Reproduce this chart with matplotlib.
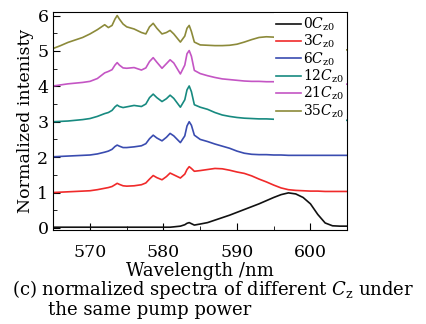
import matplotlib
matplotlib.use('Agg')
import matplotlib.pyplot as plt
from matplotlib.ticker import MultipleLocator

plt.rcParams['font.family'] = ['DejaVu Serif']
plt.rcParams['mathtext.fontset'] = 'dejavuserif'

# wavelength grid shared by all spectra (nm)
wavelength = [565, 566, 567, 568, 569, 570, 571, 572, 572.5, 573, 573.4, 573.7, 574.0, 574.5, 575,
              576, 577, 577.6, 578.1, 578.6, 579.1, 579.8, 580.4, 580.9, 581.4, 582.3, 582.9, 583.2,
              583.5, 583.8, 584.2, 585, 586, 587, 588, 589, 590, 591, 592, 593, 594, 595, 596, 597,
              598, 599, 600, 601, 602, 603, 604, 605]

spec_0 = [0.02, 0.02, 0.02, 0.02, 0.02, 0.02, 0.02, 0.02, 0.02, 0.02, 0.02, 0.02, 0.02, 0.02, 0.02,
          0.02, 0.02, 0.02, 0.02, 0.02, 0.02, 0.02, 0.02, 0.02, 0.03, 0.05, 0.09, 0.13,
          0.15, 0.12, 0.08, 0.11, 0.15, 0.22, 0.29, 0.36, 0.44, 0.52, 0.60, 0.68, 0.77, 0.86, 0.94, 0.99,
          0.96, 0.86, 0.68, 0.38, 0.14, 0.06, 0.05, 0.05]
spec_3 = [1.00, 1.01, 1.02, 1.03, 1.04, 1.05, 1.08, 1.12, 1.14, 1.17, 1.22, 1.26, 1.23, 1.19, 1.18,
          1.19, 1.22, 1.27, 1.38, 1.48, 1.42, 1.36, 1.45, 1.55, 1.50, 1.41, 1.52, 1.65,
          1.73, 1.68, 1.60, 1.62, 1.65, 1.68, 1.67, 1.63, 1.58, 1.54, 1.47, 1.38, 1.30, 1.21, 1.13, 1.08,
          1.06, 1.05, 1.04, 1.04, 1.03, 1.03, 1.03, 1.03]
spec_6 = [2.01, 2.02, 2.03, 2.04, 2.05, 2.06, 2.09, 2.14, 2.17, 2.22, 2.30, 2.34, 2.31, 2.27, 2.27,
          2.29, 2.32, 2.38, 2.52, 2.62, 2.54, 2.46, 2.56, 2.67, 2.60, 2.41, 2.60, 2.88,
          3.00, 2.90, 2.62, 2.50, 2.44, 2.37, 2.31, 2.25, 2.17, 2.11, 2.08, 2.07, 2.07, 2.06, 2.06, 2.05,
          2.05, 2.05, 2.05, 2.05, 2.05, 2.05, 2.05, 2.05]
spec_12 = [3.00, 3.01, 3.02, 3.04, 3.06, 3.09, 3.15, 3.23, 3.26, 3.32, 3.42, 3.47, 3.43, 3.40, 3.42,
           3.46, 3.43, 3.50, 3.68, 3.78, 3.68, 3.57, 3.65, 3.75, 3.66, 3.41, 3.62, 3.90,
           4.01, 3.85, 3.48, 3.41, 3.35, 3.26, 3.19, 3.15, 3.12, 3.10, 3.09, 3.08, 3.08, 3.07, 3.07, 3.07,
           3.06, 3.06, 3.06, 3.05, 3.05, 3.05, 3.04, 3.04]
spec_21 = [4.01, 4.04, 4.07, 4.09, 4.11, 4.14, 4.22, 4.38, 4.42, 4.47, 4.60, 4.67, 4.60, 4.52, 4.51,
           4.53, 4.46, 4.52, 4.70, 4.81, 4.68, 4.51, 4.64, 4.75, 4.66, 4.35, 4.60, 4.92,
           5.01, 4.85, 4.45, 4.36, 4.30, 4.25, 4.21, 4.19, 4.17, 4.15, 4.14, 4.14, 4.13, 4.13, 4.12, 4.11,
           4.10, 4.10, 4.09, 4.08, 4.08, 4.07, 4.07, 4.06]
spec_35 = [5.07, 5.15, 5.24, 5.31, 5.38, 5.48, 5.60, 5.74, 5.66, 5.72, 5.90, 6.00, 5.90, 5.76, 5.68,
           5.62, 5.52, 5.48, 5.68, 5.78, 5.64, 5.48, 5.52, 5.58, 5.48, 5.25, 5.42, 5.64,
           5.72, 5.55, 5.25, 5.17, 5.16, 5.15, 5.15, 5.16, 5.19, 5.25, 5.32, 5.38, 5.40, 5.39, 5.34, 5.26,
           5.18, 5.12, 5.08, 5.05, 5.04, 5.03, 5.03, 5.03]

spectra = [spec_0, spec_3, spec_6, spec_12, spec_21, spec_35]
labels = [r'0$C_{\rm z0}$', r'3$C_{\rm z0}$', r'6$C_{\rm z0}$',
          r'12$C_{\rm z0}$', r'21$C_{\rm z0}$', r'35$C_{\rm z0}$']
colors = ['#111111', '#f02a2a', '#3a4cb0', '#178a80', '#c455c4', '#8c8a3a']

fig = plt.figure(figsize=(4.26, 3.24), dpi=100)
ax = fig.add_axes([0.125, 0.290, 0.690, 0.673])

for y, lab, c in zip(spectra, labels, colors):
    ax.plot(wavelength, y, color=c, linewidth=1.2, label=lab)

ax.set_xlim(565, 605)
ax.set_ylim(-0.06, 6.1)
ax.xaxis.set_major_locator(MultipleLocator(10))
ax.xaxis.set_minor_locator(MultipleLocator(5))
ax.yaxis.set_major_locator(MultipleLocator(1))
ax.yaxis.set_minor_locator(MultipleLocator(0.5))
ax.tick_params(which='both', direction='in', top=False, right=False, labelsize=12.5)
ax.tick_params(which='major', length=5)
ax.tick_params(which='minor', length=3)
ax.tick_params(axis='x', which='major', pad=10)

ax.set_xlabel('Wavelength /nm', fontsize=13, labelpad=1)
ax.set_ylabel('Normalized intenisty', fontsize=12.5, labelpad=2)

leg = ax.legend(loc='upper right', fontsize=10, frameon=True, fancybox=False,
                handlelength=1.8, handletextpad=0.1, labelspacing=0.0,
                borderaxespad=0.1, borderpad=0.15)
leg.get_frame().set_edgecolor('none')
leg.get_frame().set_facecolor('white')
leg.get_frame().set_alpha(1.0)

fig.text(0.028, 0.105, r'(c) normalized spectra of different $C_{\rm z}$ under',
         fontsize=13, va='center', ha='left')
fig.text(0.113, 0.043, 'the same pump power', fontsize=13, va='center', ha='left')

fig.savefig('out.png', dpi=100, facecolor='white')
